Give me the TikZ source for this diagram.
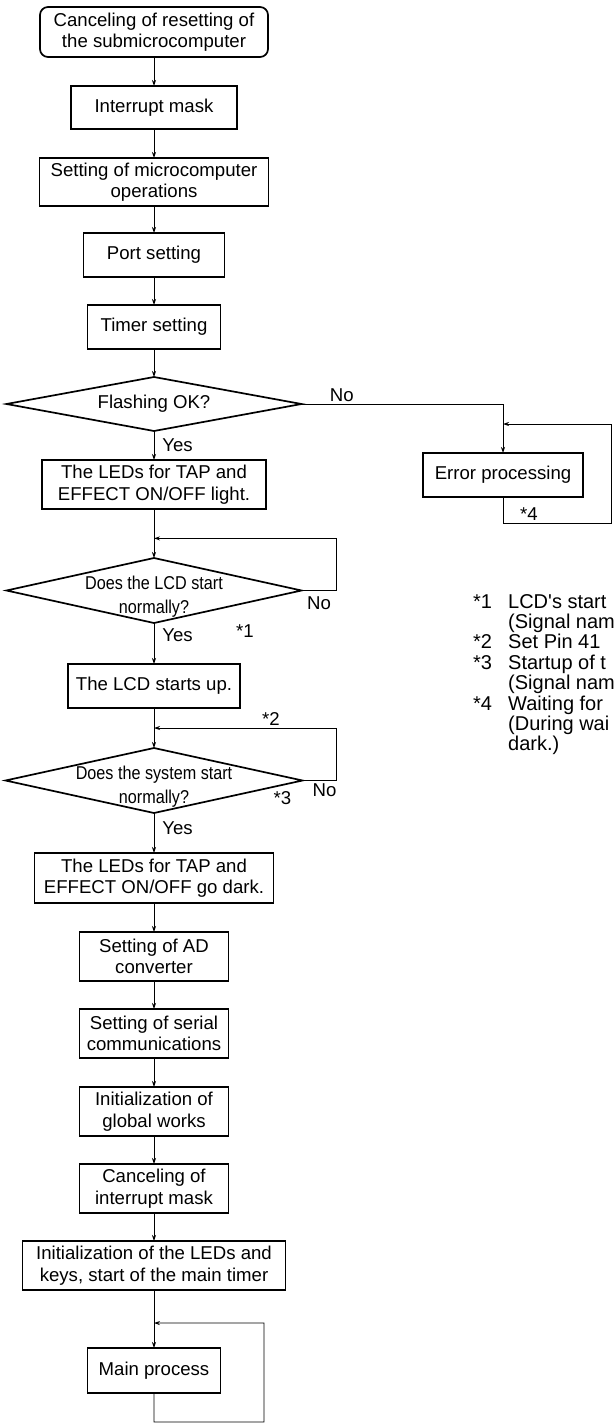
\documentclass[tikz,border=0pt]{standalone}
\usepackage{fontspec}
\setmainfont{Liberation Sans}
\newfontfamily\narrowsf[FakeStretch=0.87]{Liberation Sans}
\usepackage{tikz}
\usetikzlibrary{positioning,shapes.geometric,arrows.meta,calc}

\newcommand{\flowfont}{\fontsize{18.6}{21.5}\selectfont}
\newcommand{\askfont}{\narrowsf\fontsize{18.6}{24}\selectfont}
\newcommand{\notefont}{\fontsize{20}{19.6}\selectfont}

\begin{document}
\begin{tikzpicture}[x=1pt, y=1pt,
        >={Stealth[length=6pt,width=4pt]},
        procbox/.style={draw, line width=1.7pt, inner sep=2pt, outer sep=0pt, align=center, font=\flowfont},
        startbox/.style={procbox, rounded corners=8pt},
        decision/.style={draw, diamond, line width=1.7pt, inner sep=0pt, outer sep=0pt, minimum width=295pt, minimum height=65pt},
        flow/.style={->, line width=0.8pt},
        tag/.style={inner sep=2pt, font=\flowfont},
        asktext/.style={tag, font=\askfont, align=center, yshift=-6pt}]
        \useasboundingbox (0,0) rectangle (613,-1426);

        \node[startbox, minimum width=228pt, minimum height=50pt] (reset) at (154,-32) {Canceling of resetting of\\the submicrocomputer};
        \node[procbox, minimum width=166pt, minimum height=43pt, below=29pt of reset] (mask) {Interrupt mask};
        \node[procbox, minimum width=229pt, minimum height=48pt, below=29pt of mask] (opset) {Setting of microcomputer\\operations};
        \node[procbox, minimum width=141pt, minimum height=44pt, below=27pt of opset] (port) {Port setting};
        \node[procbox, minimum width=133pt, minimum height=44pt, below=28pt of port] (timer) {Timer setting};
        \node[decision, minimum height=54pt, below=28pt of timer, label={[tag]center:Flashing OK?}] (flash) {};
        \node[procbox, minimum width=224pt, minimum height=49pt, below=29pt of flash] (ledon) {The LEDs for TAP and\\EFFECT ON/OFF light.};
        \node[decision, below=49pt of ledon, label={[asktext]center:Does the LCD start\\normally?}] (lcdq) {};
        \node[procbox, minimum width=172pt, minimum height=44pt, below=41pt of lcdq] (lcdup) {The LCD starts up.};
        \node[decision, minimum width=297pt, below=40pt of lcdup, label={[asktext]center:Does the system start\\normally?}] (sysq) {};
        \node[procbox, minimum width=239pt, minimum height=50pt, below=40pt of sysq] (ledoff) {The LEDs for TAP and\\EFFECT ON/OFF go dark.};
        \node[procbox, minimum width=149pt, minimum height=49pt, below=29pt of ledoff] (adconv) {Setting of AD\\converter};
        \node[procbox, minimum width=149pt, minimum height=49pt, below=28pt of adconv] (serial) {Setting of serial\\communications};
        \node[procbox, minimum width=149pt, minimum height=49pt, below=29pt of serial] (globalw) {Initialization of\\global works};
        \node[procbox, minimum width=149pt, minimum height=49pt, below=28pt of globalw] (unmask) {Canceling of\\interrupt mask};
        \node[procbox, minimum width=263pt, minimum height=49pt, below=28pt of unmask] (initled) {Initialization of the LEDs and\\keys, start of the main timer};
        \node[procbox, minimum width=133pt, minimum height=45pt, below=58pt of initled] (mainproc) {Main process};

        \node[procbox, minimum width=160pt, minimum height=44pt] (errproc) at (503,-475) {Error processing};

        % where the loops come back in
        \coordinate (errin) at ($(errproc.north)+(0,29)$);
        \coordinate (lcdin) at ($(ledon.south)!0.6!(lcdq.north)$);
        \coordinate (sysin) at ($(lcdup.south)!0.5!(sysq.north)$);
        \coordinate (mainin) at ($(initled.south)!0.57!(mainproc.north)$);

        \path[flow] (reset) edge (mask)
            (mask) edge (opset)
            (opset) edge (port)
            (port) edge (timer)
            (timer) edge (flash)
            (flash) edge node[tag, right=6pt]{Yes} (ledon)
            (ledon) edge (lcdq)
            (lcdq) edge node[tag, right=6pt, pos=0.3]{Yes} (lcdup)
            (lcdup) edge (sysq)
            (sysq) edge node[tag, right=6pt, pos=0.37]{Yes} (ledoff)
            (ledoff) edge (adconv)
            (adconv) edge (serial)
            (serial) edge (globalw)
            (globalw) edge (unmask)
            (unmask) edge (initled)
            (initled) edge (mainproc);

        \draw[flow] (flash.east) -| node[tag, above, pos=0.1]{No} (errproc.north);
        \draw[flow] (errproc.south) -- ++(0,-26) -| node[tag, above, pos=0.12]{*4} ++(108,99) -- (errin);
        \draw[flow] (lcdq.east) -- node[tag, below=4pt]{No} ++(35,0) |- (lcdin);
        \draw[flow] (sysq.east) -- node[tag, below=1pt, xshift=5pt]{No} ++(34,0) |- node[tag, above, pos=0.68]{*2} (sysin);
        \draw[flow] (mainproc.south) -- ++(0,-29) -| ++(110,99) -- (mainin);

        \node[tag] (mark1) at ($(lcdq.south)+(91,-8)$) {*1};
        \node[tag] (mark3) at ($(sysq.east)+(-20,-18)$) {*3};

        \node[anchor=north west, inner sep=0pt, font=\notefont] (notes) at (473,-594) {%
            \begin{tabular}{@{}p{35pt}@{}l@{}}
            {*}1 & LCD\textquotesingle s start\\
                 & (Signal nam\\
            {*}2 & Set Pin 41\\
            {*}3 & Startup of t\\
                 & (Signal nam\\
            {*}4 & Waiting for\\
                 & (During wai\\
                 & dark.)
            \end{tabular}};
\end{tikzpicture}
\end{document}
